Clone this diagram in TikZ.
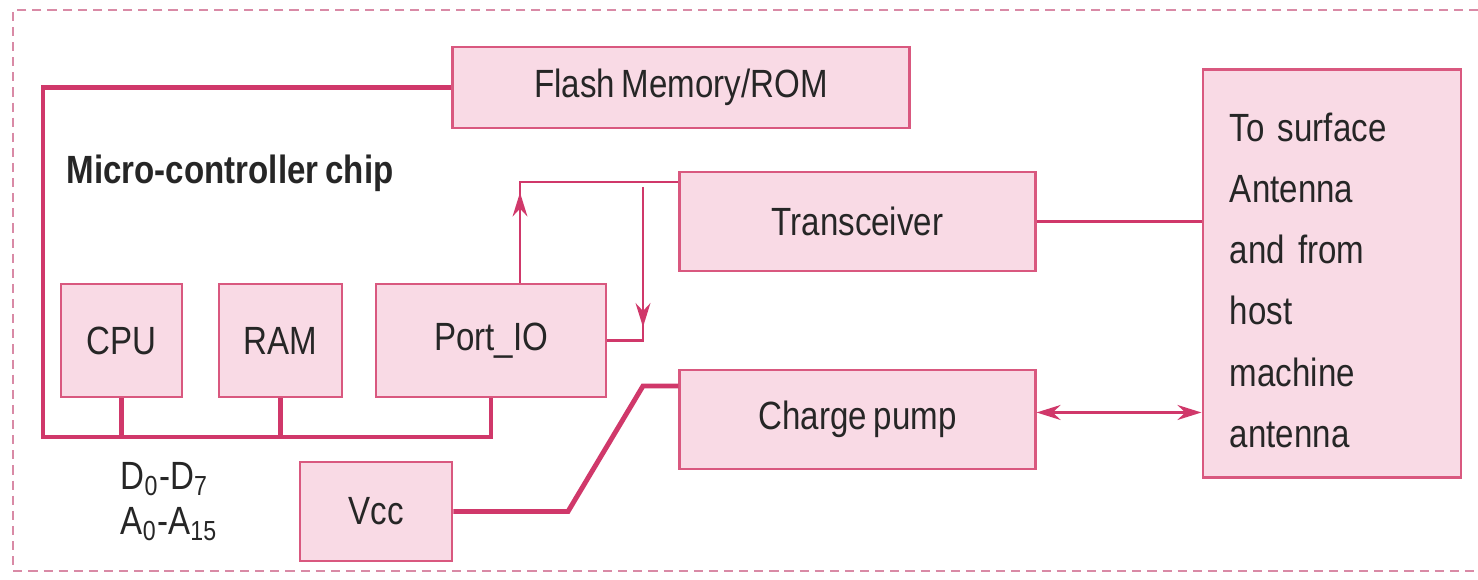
\documentclass[tikz,border=0pt]{standalone}
\usepackage{fontspec}
\setmainfont[FakeStretch=0.84, WordSpace=0.75]{Liberation Sans}
\usetikzlibrary{arrows.meta,decorations.markings}

\definecolor{chipred}{HTML}{D0386A}
\definecolor{chipedge}{HTML}{D9587F}
\definecolor{chipfill}{HTML}{F9DAE5}
\definecolor{chipink}{HTML}{262626}
\definecolor{chipdash}{HTML}{D98AA6}
\newcommand{\mcfont}{\fontsize{11.2}{17.4}\selectfont}
\tikzset{
    mc box/.style={draw=chipedge, line width=0.8pt, fill=chipfill,
                   inner sep=0pt, font=\mcfont, text=chipink},
    mc bus/.style={chipred, line width=1.4pt},
    mc sig/.style={chipred, line width=0.8pt},
    mc pwr/.style={chipred, line width=1.1pt},
    mc tip/.tip={Stealth[length=6.8pt, width=4.2pt]},
    mc midtip/.style={postaction={decorate},
                      decoration={markings,
                          mark=at position #1 with {\arrow{mc tip}}}},
    mc frame/.style={chipdash, line width=0.5pt,
                     dash pattern=on 2.6pt off 1.7pt},
    mc label/.style={font=\mcfont, text=chipink, inner sep=0pt},
    mc title/.style={mc label, font=\mcfont\bfseries},
}

\begin{document}
\begin{tikzpicture}[x=0.01cm, y=-0.01cm]
    \useasboundingbox (0,0) rectangle (1478,580);
    % Dashed frame (open on the right)
    \draw[mc frame] (1478,10) -- (13,10) -- (13,571) -- (1478,571);
    % Memory on top
    \node[mc box, minimum width=4.56cm, minimum height=0.81cm]
        (flash) at (681,87.5) {Flash Memory/ROM};
    \node[mc title, anchor=west] (chip) at (66,173) {Micro-controller chip};
    % Chip blocks
    \node[mc box, minimum width=1.21cm, minimum height=1.13cm]
        (cpu) at (121.5,340.5) {CPU};
    \node[mc box, minimum width=1.23cm, minimum height=1.13cm]
        (ram) at (280.5,340.5) {RAM};
    \node[mc box, minimum width=2.30cm, minimum height=1.13cm]
        (port) at (491,340.5) {Port\_IO};
    \node[mc box, minimum width=1.52cm, minimum height=0.99cm]
        (vcc) at (376,511.5) {Vcc};
    % Blocks outside the chip
    \node[mc box, minimum width=3.55cm, minimum height=0.99cm]
        (trx) at (857.5,221.5) {Transceiver};
    \node[mc box, minimum width=3.55cm, minimum height=0.99cm]
        (pump) at (857.5,419.5) {Charge pump};
    \node[mc box, minimum width=2.58cm, minimum height=4.07cm,
          text width=2.04cm, align=left]
        (ant) at (1332,273.5)
        {\rule{0pt}{0.42cm}To surface\\Antenna\\and from\\host\\machine\\antenna};
    % Bus labels
    \node[mc label, font=\fontsize{11.2}{12.8}\selectfont,
          align=left, anchor=west] (buslbl) at (120,502)
        {D\textsubscript{0}-D\textsubscript{7}\\A\textsubscript{0}-A\textsubscript{15}};
    % Data/address bus
    \coordinate (busNW) at (43,87.5);
    \coordinate (busSW) at (43,437);
    \draw[mc bus] (flash.west) -- (busNW) -- (busSW) -| (port.south);
    \draw[mc bus] (cpu.south) -- (cpu.south |- busSW);
    \draw[mc bus] (ram.south) -- (ram.south |- busSW);
    % Port_IO <-> transceiver
    \coordinate (up) at (520,182);
    \coordinate (dn) at (643,187);
    \draw[mc sig, mc midtip=0.9cm] (up |- port.north) -- (up) -- (up -| trx.west);
    \draw[mc sig, mc midtip=1.4cm] (dn) -- (dn |- port.east) -- (port.east);
    \draw[mc sig] (trx.east) -- (trx.east -| ant.west);
    % Supply
    \coordinate (vk1) at (568,511.5);
    \coordinate (vk2) at (643,386);
    \draw[mc bus] (vcc.east) -- (vk1) -- (vk2) -- (vk2 -| pump.west);
    \draw[mc pwr, mc tip-mc tip] ([yshift=0.07cm]pump.east)
        -- ([yshift=0.07cm]pump.east -| ant.west);
\end{tikzpicture}
\end{document}
